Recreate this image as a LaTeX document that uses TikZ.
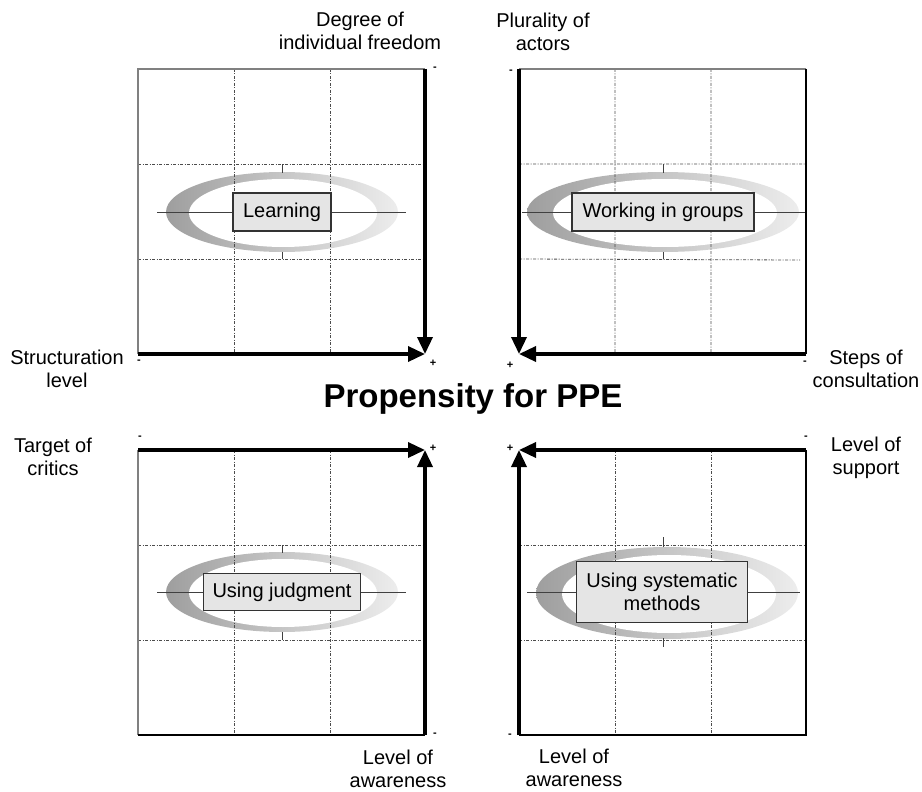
\documentclass[tikz,border=0pt]{standalone}
\usepackage{fontspec}
\setmainfont{Liberation Sans}
\usetikzlibrary{arrows.meta}

\begin{document}
\begin{tikzpicture}[x=1pt,y=-1pt,
  framegray/.style={draw=black!50, line width=2pt},
  frameblack/.style={draw=black, line width=1.6pt},
  axisline/.style={draw=black, line width=3.5pt, -{Triangle[length=17pt,width=15pt]}},
  gridline/.style={draw=black!70, line width=0.8pt, dash pattern=on 3pt off 1.5pt on 1pt off 1.5pt},
  midline/.style={draw=black!75, line width=0.9pt},
  ring/.style={left color=black!38, right color=black!7},
  tag/.style={draw=black!80, line width=1.2pt, fill=black!10, inner sep=0pt,
    font=\fontsize{20}{23.5}\selectfont, align=center},
  axlabel/.style={inner sep=0pt, font=\fontsize{20}{23.5}\selectfont, align=center},
  sign/.style={inner sep=0pt, font=\fontsize{11}{11}\selectfont\bfseries},
]
\useasboundingbox (0,0) rectangle (922,792);

% ---------- top left: Learning ----------
\shade[ring] (282,212) ellipse [x radius=116pt, y radius=40pt];
\fill[white] (283,213) ellipse [x radius=94pt, y radius=34pt];
\draw[gridline] (234,69) -- (234,354) (330,69) -- (330,354)
                (138,164) -- (425,164) (138,259) -- (425,259);
\draw[midline] (157,212) -- (406,212) (282,164) -- (282,173) (282,252) -- (282,259);
\draw[framegray] (138,354) -- (138,69) -- (425,69);
\node[tag, minimum width=98pt, minimum height=38pt] (learn) at (282,212) {Learning};
\coordinate (tlTop) at (425,69);
\coordinate (tlLeft) at (138,354);
\coordinate (tlCorner) at (425,354);
\draw[axisline] (tlTop) -- (tlCorner);
\draw[axisline] (tlLeft) -- (tlCorner);
\node[sign] (tlS1) at (435,69) {-};
\node[sign] (tlS2) at (433,363) {+};
\node[sign] (tlS3) at (139,362) {-};
\node[axlabel] (degree) at (360,31) {Degree of\\individual freedom};
\node[axlabel] (struct) at (67,369) {Structuration\\level};

% ---------- top right: Working in groups ----------
\shade[ring] (663,212) ellipse [x radius=136pt, y radius=40pt];
\fill[white] (665,213) ellipse [x radius=112pt, y radius=34pt];
\draw[gridline] (615,69) -- (615,354) (711,69) -- (711,354)
                (519,164) -- (806,164) (519,259) -- (800,260);
\draw[midline] (522,212) -- (806,212) (663,164) -- (663,173) (663,252) -- (663,259);
\draw[framegray] (519,69) -- (806,69);
\draw[frameblack] (806,69) -- (806,354);
\node[tag, minimum width=182pt, minimum height=38pt] (groups) at (663,212) {Working in groups};
\coordinate (trTop) at (519,69);
\coordinate (trRight) at (806,354);
\coordinate (trCorner) at (519,354);
\draw[axisline] (trTop) -- (trCorner);
\draw[axisline] (trRight) -- (trCorner);
\node[sign] (trS1) at (511,72) {-};
\node[sign] (trS2) at (510,365) {+};
\node[sign] (trS3) at (805,363) {-};
\node[axlabel] (plural) at (543,32) {Plurality of\\actors};
\node[axlabel] (steps) at (866,369) {Steps of\\consultation};

% ---------- title ----------
\node[inner sep=0pt, font=\fontsize{33}{33}\selectfont\bfseries] (title) at (473,399) {Propensity for PPE};

% ---------- bottom left: Using judgment ----------
\shade[ring] (282,592) ellipse [x radius=116pt, y radius=40pt];
\fill[white] (283,593) ellipse [x radius=94pt, y radius=34pt];
\draw[gridline] (234,450) -- (234,735) (330,450) -- (330,735)
                (138,545) -- (425,545) (138,640) -- (425,640);
\draw[midline] (157,592) -- (406,592) (282,545) -- (282,553) (282,632) -- (282,640);
\draw[framegray] (138,450) -- (138,735);
\draw[frameblack] (138,735) -- (425,735);
\node[tag, minimum width=157pt, minimum height=37pt] (judg) at (282,592) {Using judgment};
\coordinate (blLeft) at (138,450);
\coordinate (blBottom) at (425,735);
\coordinate (blCorner) at (425,450);
\draw[axisline] (blLeft) -- (blCorner);
\draw[axisline] (blBottom) -- (blCorner);
\node[sign] (blS1) at (140,438) {-};
\node[sign] (blS2) at (433,448) {+};
\node[sign] (blS3) at (435,735) {-};
\node[axlabel] (target) at (53,457) {Target of\\critics};
\node[axlabel] (aware1) at (398,769) {Level of\\awareness};

% ---------- bottom right: Using systematic methods ----------
\shade[ring] (667,593) ellipse [x radius=131pt, y radius=46pt];
\fill[white] (669,594) ellipse [x radius=107pt, y radius=39pt];
\draw[gridline] (615,450) -- (615,735) (711,450) -- (711,735)
                (519,545) -- (806,545) (519,640) -- (806,640);
\draw[midline] (527,592) -- (800,592) (663,537) -- (663,547) (663,638) -- (663,647);
\draw[frameblack] (806,450) -- (806,735) -- (519,735);
\node[tag, minimum width=171pt, minimum height=61pt] (syst) at (662,592) {Using systematic\\methods};
\coordinate (brRight) at (806,450);
\coordinate (brBottom) at (519,735);
\coordinate (brCorner) at (519,450);
\draw[axisline] (brRight) -- (brCorner);
\draw[axisline] (brBottom) -- (brCorner);
\node[sign] (brS1) at (510,448) {+};
\node[sign] (brS2) at (806,438) {-};
\node[sign] (brS3) at (510,736) {-};
\node[axlabel] (support) at (866,458) {Level of\\support};
\node[axlabel] (aware2) at (574,768) {Level of\\awareness};
\end{tikzpicture}
\end{document}
